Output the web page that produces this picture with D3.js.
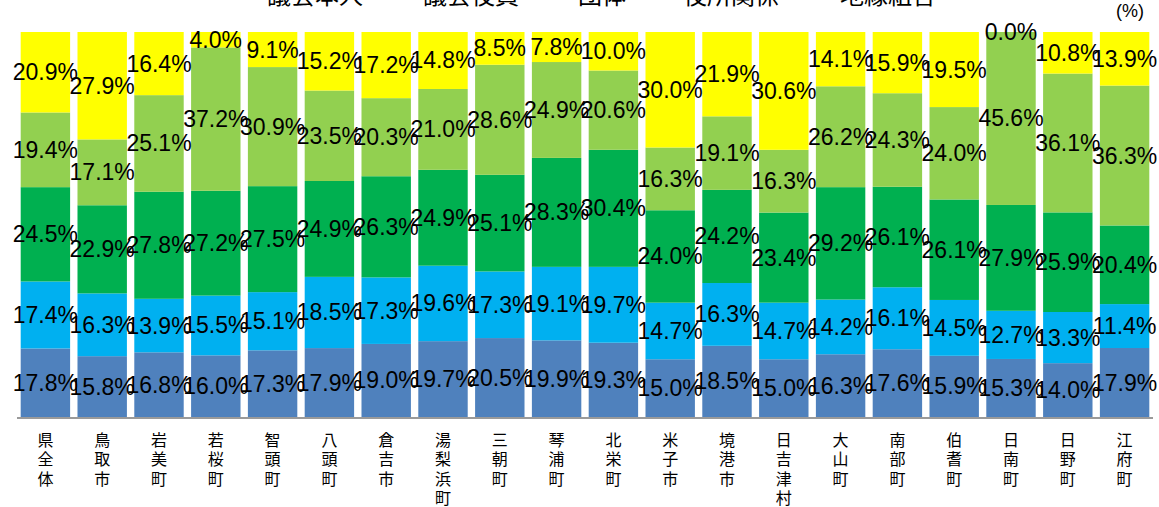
<!DOCTYPE html>
<html>
<head>
<meta charset="utf-8">
<script src="https://cdn.jsdelivr.net/npm/d3@7"></script>
<style>
  html, body { margin: 0; padding: 0; background: #fff; }
  svg { display: block; }
</style>
</head>
<body>
<svg id="chart" width="1159" height="507"></svg>
<script>
const categories = ["県全体","鳥取市","岩美町","若桜町","智頭町","八頭町","倉吉市","湯梨浜町","三朝町","琴浦町","北栄町","米子市","境港市","日吉津村","大山町","南部町","伯耆町","日南町","日野町","江府町"];
const seriesNames = ["議会本人","議会役員","団体","役所関係","地縁組合"];
const seriesColors = ["#4F81BD","#00B0F0","#00B050","#92D050","#FFFF00"];
const s1 = [17.8,15.8,16.8,16.0,17.3,17.9,19.0,19.7,20.5,19.9,19.3,15.0,18.5,15.0,16.3,17.6,15.9,15.3,14.0,17.9];
const s2 = [17.4,16.3,13.9,15.5,15.1,18.5,17.3,19.6,17.3,19.1,19.7,14.7,16.3,14.7,14.2,16.1,14.5,12.7,13.3,11.4];
const s3 = [24.5,22.9,27.8,27.2,27.5,24.9,26.3,24.9,25.1,28.3,30.4,24.0,24.2,23.4,29.2,26.1,26.1,27.9,25.9,20.4];
const s4 = [19.4,17.1,25.1,37.2,30.9,23.5,20.3,21.0,28.6,24.9,20.6,16.3,19.1,16.3,26.2,24.3,24.0,45.6,36.1,36.3];
const s5 = [20.9,27.9,16.4,4.0,9.1,15.2,17.2,14.8,8.5,7.8,10.0,30.0,21.9,30.6,14.1,15.9,19.5,0.0,10.8,13.9];
const unitLabel = "(%)";

const seriesValues = [s1,s2,s3,s4,s5];
const rows = categories.map((c,i) => {
  const r = {cat: c};
  seriesNames.forEach((k,j) => r[k] = seriesValues[j][i]);
  return r;
});

const svg = d3.select("#chart");
const x = d3.scaleBand().domain(categories).range([17, 1153]).paddingInner(0.13).paddingOuter(0.065);
const y = d3.scaleLinear().domain([0, 1]).range([417, 32]);

const stack = d3.stack().keys(seriesNames).offset(d3.stackOffsetExpand);
const layers = stack(rows);

const g = svg.append("g");
layers.forEach((layer, li) => {
  g.append("g").attr("fill", seriesColors[li])
    .selectAll("rect").data(layer).join("rect")
    .attr("x", d => x(d.data.cat))
    .attr("width", x.bandwidth())
    .attr("y", d => y(d[1]))
    .attr("height", d => y(d[0]) - y(d[1]));
});

// axis line
svg.append("line")
  .attr("x1", x.range()[0]).attr("x2", x.range()[1])
  .attr("y1", 418).attr("y2", 418)
  .attr("stroke", "#9a9a9a").attr("stroke-width", 2);

// data labels
layers.forEach((layer, li) => {
  g.append("g").selectAll("text").data(layer).join("text")
    .attr("x", d => x(d.data.cat) + x.bandwidth() / 2)
    .attr("y", d => (y(d[0]) + y(d[1])) / 2)
    .attr("text-anchor", "middle")
    .attr("dominant-baseline", "central")
    .attr("font-family", "'Liberation Sans', Arial, sans-serif")
    .attr("font-size", 23)
    .attr("fill", "#000")
    .text(d => d.data[layer.key].toFixed(1) + "%");
});

// category labels (vertical, one text per category)
const catG = svg.append("g");
categories.forEach(c => {
  const cx = x(c) + x.bandwidth() / 2;
  const t = catG.append("text")
    .attr("x", cx)
    .attr("y", 446)
    .attr("text-anchor", "middle")
    .attr("font-family", "'Noto Sans CJK JP', sans-serif")
    .attr("font-size", 16)
    .attr("fill", "#000");
  Array.from(c).forEach((ch, i) => {
    t.append("tspan")
      .attr("x", cx)
      .attr("dy", i === 0 ? 0 : 19.3)
      .text(ch);
  });
});

// unit
svg.append("text")
  .attr("x", 1130).attr("y", 17)
  .attr("text-anchor", "middle")
  .attr("font-family", "'Liberation Sans', Arial, sans-serif")
  .attr("font-size", 18)
  .attr("fill", "#000")
  .text(unitLabel);

// legend (mostly cropped off the top, as in the reference)
const legendX = [247, 403, 558, 663, 820];
const leg = svg.append("g");
seriesNames.forEach((n, i) => {
  leg.append("rect")
    .attr("x", legendX[i]).attr("y", -16)
    .attr("width", 12).attr("height", 12)
    .attr("fill", seriesColors[i]);
  leg.append("text")
    .attr("x", legendX[i] + 20).attr("y", 4)
    .attr("font-family", "'Noto Sans CJK JP', sans-serif")
    .attr("font-size", 24)
    .attr("fill", "#000")
    .text(n);
});
</script>
</body>
</html>
